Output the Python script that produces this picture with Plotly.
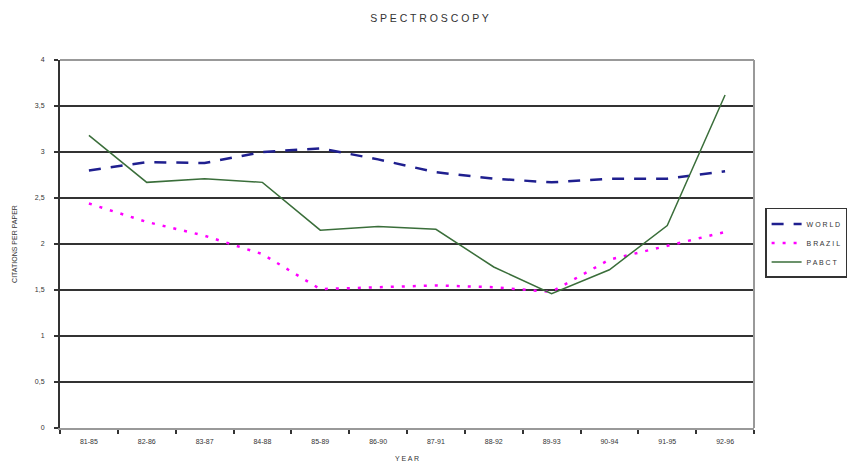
import plotly.graph_objects as go

categories = ["81-85", "82-86", "83-87", "84-88", "85-89", "86-90",
              "87-91", "88-92", "89-93", "90-94", "91-95", "92-96"]
world = [2.80, 2.89, 2.88, 3.00, 3.04, 2.92, 2.78, 2.71, 2.67, 2.71, 2.71, 2.79]
brazil = [2.44, 2.24, 2.09, 1.89, 1.51, 1.53, 1.55, 1.53, 1.48, 1.83, 1.98, 2.13]
pabct = [3.18, 2.67, 2.71, 2.67, 2.15, 2.19, 2.16, 1.75, 1.46, 1.72, 2.20, 3.62]
y_ticks = [0, 0.5, 1, 1.5, 2, 2.5, 3, 3.5, 4]
y_tick_labels = ["0", "0,5", "1", "1,5", "2", "2,5", "3", "3,5", "4"]

font_family = "Liberation Sans, Arial, sans-serif"

fig = go.Figure()
fig.add_trace(go.Scatter(x=categories, y=world, mode="lines", name="W O R L D",
                         line=dict(color="#1f1f8f", width=2.5, dash="12px,10px")))
fig.add_trace(go.Scatter(x=categories, y=brazil, mode="lines", name="B R A Z I L",
                         line=dict(color="#ff00ff", width=2.5, dash="3px,8px")))
fig.add_trace(go.Scatter(x=categories, y=pabct, mode="lines", name="P A B C T",
                         line=dict(color="#3a6e3a", width=1.5)))

fig.update_layout(
    width=859, height=464,
    margin=dict(l=60, r=105, t=60, b=36, autoexpand=False),
    paper_bgcolor="white", plot_bgcolor="white",
    font=dict(family=font_family, size=8, color="#333"),
    title=dict(text="S P E C T R O S C O P Y", x=0.5, xanchor="center",
               y=0.961, yanchor="middle",
               font=dict(family=font_family, size=10.5, color="#333")),
    showlegend=True,
    legend=dict(x=1.016, y=0.598, xanchor="left", yanchor="top",
                bgcolor="white", bordercolor="#333", borderwidth=1.5,
                font=dict(family=font_family, size=7, color="#333"),
                tracegroupgap=0, itemwidth=30),
    xaxis=dict(type="category", categoryorder="array", categoryarray=categories,
               range=[-0.5, len(categories) - 0.5],
               tickson="boundaries", ticks="outside", ticklen=4, tickwidth=1.5,
               tickcolor="#333", showgrid=False, showline=True, linecolor="#999",
               linewidth=2, zeroline=False, ticklabelstandoff=6,
               tickfont=dict(family=font_family, size=7, color="#333"),
               title=dict(text="Y E A R", standoff=12,
                          font=dict(family=font_family, size=7, color="#333"))),
    yaxis=dict(range=[0, 4], tickvals=y_ticks, ticktext=y_tick_labels,
               ticks="outside", ticklen=4, ticklabelstandoff=8,
               tickwidth=1.5, tickcolor="#333", showline=True, linecolor="#333",
               linewidth=2, showgrid=True, gridcolor="#333", gridwidth=2,
               zeroline=False,
               tickfont=dict(family=font_family, size=7, color="#333"),
               title=dict(text="CITATIONS PER PAPER", standoff=16,
                          font=dict(family=font_family, size=7, color="#333"))),
)
# plot-area frame (top and right edges, lighter gray)
fig.add_shape(type="line", xref="paper", yref="paper", x0=0, x1=1, y0=1, y1=1,
              line=dict(color="#999", width=2))
fig.add_shape(type="line", xref="paper", yref="paper", x0=1, x1=1, y0=0, y1=1,
              line=dict(color="#999", width=2))

fig.write_html("out.html")
